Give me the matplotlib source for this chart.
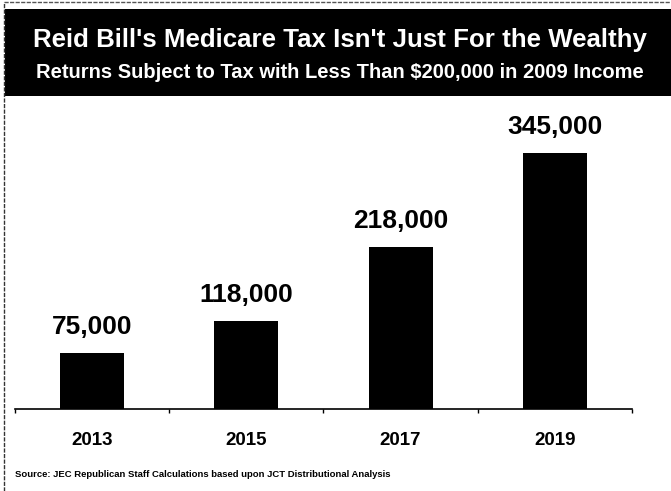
import matplotlib
matplotlib.use("Agg")
import matplotlib.pyplot as plt
from matplotlib.patches import Rectangle
from matplotlib.lines import Line2D

# data
years = ["2013", "2015", "2017", "2019"]
returns = [75000, 118000, 218000, 345000]
value_labels = ["75,000", "118,000", "218,000", "345,000"]

title = "Reid Bill's Medicare Tax Isn't Just For the Wealthy"
subtitle = "Returns Subject to Tax with Less Than $200,000 in 2009 Income"
source = "Source: JEC Republican Staff Calculations based upon JCT Distributional Analysis"

font = ["Liberation Sans", "DejaVu Sans"]

fig = plt.figure(figsize=(6.71, 4.91), dpi=100)
fig.patch.set_facecolor("white")

# black title band + thin frame lines
fig.add_artist(Rectangle((5 / 671, 0.8045), 1.0, 0.1772, transform=fig.transFigure,
                         facecolor="black", edgecolor="none"))
fig.add_artist(Line2D([4 / 671, 4 / 671], [0, 1 - 2 / 491], transform=fig.transFigure,
                      color="#333333", lw=1.0, ls=(0, (3, 1))))
fig.add_artist(Line2D([4 / 671, 1], [1 - 2 / 491, 1 - 2 / 491], transform=fig.transFigure,
                      color="#555555", lw=1.0, ls=(0, (3, 1))))

fig.text(0.506, 0.9043, title, color="white", ha="center", va="baseline",
         fontsize=18.6, family=font, fontweight="bold")
fig.text(0.506, 0.8411, subtitle, color="white", ha="center", va="baseline",
         fontsize=14.5, family=font, fontweight="bold")

ax = fig.add_axes([0.0221, 0.168, 0.9198, 0.6283])
x = range(len(years))
bars = ax.bar(x, returns, width=0.415, color="black")
ax.set_xlim(-0.5, 3.5)
ax.set_ylim(0, 416600)

for b, lab in zip(bars, value_labels):
    ax.annotate(lab, (b.get_x() + b.get_width() / 2, b.get_height()),
                xytext=(0, 13.5), textcoords="offset points", ha="center",
                va="baseline", fontsize=19, family=font, fontweight="bold")

for s in ["left", "right", "top"]:
    ax.spines[s].set_visible(False)
ax.spines["bottom"].set_linewidth(1.2)
ax.set_yticks([])
ax.set_xticks(list(x))
ax.set_xticklabels(years, fontsize=13.5, family=font, fontweight="bold")
ax.tick_params(axis="x", which="major", length=0, pad=17)
ax.set_xticks([-0.5, 0.5, 1.5, 2.5, 3.5], minor=True)
ax.tick_params(axis="x", which="minor", length=3, width=1, direction="out")

fig.text(15 / 671, 0.0285, source, ha="left", va="baseline", fontsize=6.8,
         family=font, fontweight="bold")

fig.savefig("out.png", dpi=100)
